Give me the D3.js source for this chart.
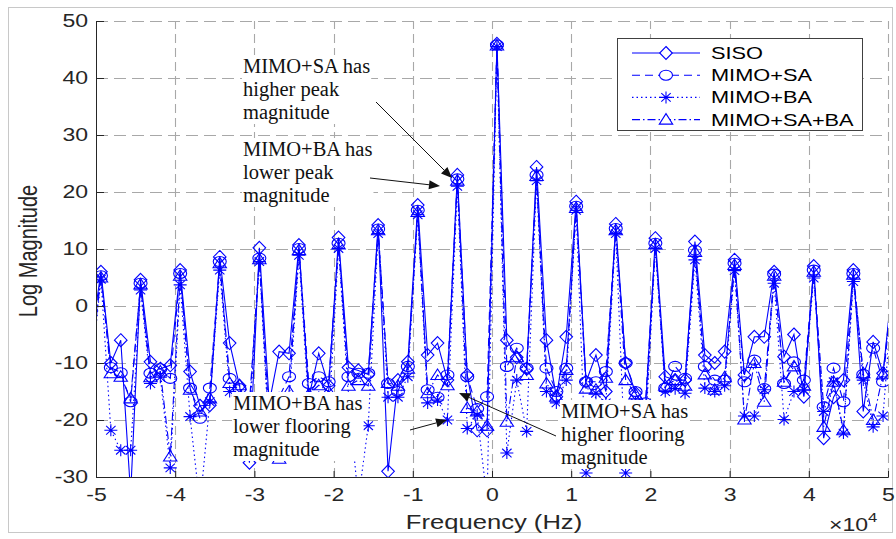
<!DOCTYPE html>
<html>
<head>
<meta charset="utf-8">
<script src="https://cdn.jsdelivr.net/npm/d3@7"></script>
<style>
  html, body { margin: 0; padding: 0; background: #ffffff; }
  svg { display: block; }
</style>
</head>
<body>
<svg id="chart" width="896" height="539"></svg>
<script>
// Frequency bins (units of 10^4 Hz), 1250 Hz spacing
const freqBins = [
  -5.0625, -4.9375, -4.8125, -4.6875, -4.5625, -4.4375, -4.3125, -4.1875, -4.0625,
  -3.9375, -3.8125, -3.6875, -3.5625, -3.4375, -3.3125, -3.1875, -3.0625,
  -2.9375, -2.8125, -2.6875, -2.5625, -2.4375, -2.3125, -2.1875, -2.0625,
  -1.9375, -1.8125, -1.6875, -1.5625, -1.4375, -1.3125, -1.1875, -1.0625,
  -0.9375, -0.8125, -0.6875, -0.5625, -0.4375, -0.3125, -0.1875, -0.0625,
  0.0625, 0.1875, 0.3125, 0.4375, 0.5625, 0.6875, 0.8125, 0.9375,
  1.0625, 1.1875, 1.3125, 1.4375, 1.5625, 1.6875, 1.8125, 1.9375,
  2.0625, 2.1875, 2.3125, 2.4375, 2.5625, 2.6875, 2.8125, 2.9375,
  3.0625, 3.1875, 3.3125, 3.4375, 3.5625, 3.6875, 3.8125, 3.9375,
  4.0625, 4.1875, 4.3125, 4.4375, 4.5625, 4.6875, 4.8125, 4.9375, 5.0625
];

// Log magnitude of each scheme at every bin
const sisoMag = [
  -6, 6.0, -10, -6, -33, 4.6, -9.8, -11, -10.4,
  6.3, -11.5, -17.5, -17.4, 8.6, -6.5, -14, -27.5,
  10.2, -17, -8.0, -8.3, 10.7, -16, -8.3, -14,
  12.0, -10.8, -11.3, -12, 14.2, -29, -13, -9.8,
  17.7, -8.6, -6.5, -13, 23.0, -12.1, -21.8, -21.8,
  46.0, -6, -9, -11, 24.4, -6, -15.9, -5.4,
  18.3, -13.3, -8.6, -15, 14.4, -10, -15.3, -18,
  11.9, -12.4, -13, -13, 11.3, -8.6, -10, -8,
  8.1, -12.1, -5.4, -5.4, 6.0, -8.9, -5, -15.9,
  7.0, -23.2, -16, -13, 6.3, -18.5, -6.3, -11.8, 5.0
];
const mimoSaMag = [
  -8, 5.3, -10.8, -11.7, -16.8, 4.0, -11.8, -11, -12.7,
  5.7, -14.4, -19.7, -14.4, 7.8, -12.7, -14.5, -17,
  8.4, -20, -16, -12.4, 10.1, -13.6, -12.4, -13.3,
  11.0, -12.4, -11.8, -11.8, 13.5, -13.6, -15, -10.6,
  16.8, -14.7, -16, -12.1, 22.3, -12.4, -18, -15.9,
  45.8, -10.6, -7.4, -10.9, 23.0, -10.9, -15, -10.9,
  17.5, -13.3, -13.3, -11.5, 13.6, -10, -15, -17,
  11.0, -14.4, -10.6, -12.7, 9.8, -10.6, -13, -13,
  7.5, -13.3, -9.5, -14.5, 5.6, -13.6, -9.8, -13,
  6.3, -17.7, -10.9, -16.8, 5.7, -12, -7.4, -13.3, 4.5
];
const mimoBaMag = [
  -12, 4.7, -21.8, -25.3, -25.3, 2.8, -13.6, -12.5, -28.4,
  3.7, -19.4, -35, -16.8, 6.3, -15, -18, -20,
  7.8, -24, -22, -17, 8.9, -18, -16, -20,
  10.1, -16, -34, -21, 12.7, -16, -16, -12.4,
  16.0, -17, -16.5, -20, 21.0, -21.5, -19.1, -34,
  45.5, -25.8, -13, -22, 22.0, -15, -17, -13,
  16.8, -29.3, -15.3, -17, 12.7, -29.3, -17, -22,
  10.1, -15, -14.5, -15.3, 8.1, -14.4, -15, -14,
  6.2, -19.3, -19.3, -14.7, 4.0, -19.9, -15, -14.7,
  4.9, -18.5, -13.3, -22.3, 4.3, -13, -21.2, -19.3, 3.5
];
const mimoSaBaMag = [
  -10, 5.0, -11.8, -12.4, -16.2, 3.8, -12.5, -11.5, -26.4,
  5.3, -14.7, -18.5, -16.2, 7.5, -13.5, -13.9, -18,
  8.2, -22, -26.8, -15, 9.8, -15.5, -13.9, -15,
  10.8, -14, -13, -14, 13.3, -13.5, -14, -11,
  16.5, -15.3, -12.1, -13.9, 22.0, -17.9, -18.5, -21,
  45.7, -20.3, -9, -12.1, 22.8, -13.6, -15.9, -11.2,
  17.2, -14.5, -14.7, -12.6, 13.3, -13, -15.5, -20,
  10.8, -14, -13, -14, 9.5, -12, -14.7, -12.5,
  7.2, -19.9, -10, -16.8, 5.3, -13.3, -10.6, -14,
  6.0, -21.2, -13.3, -21.8, 5.5, -11.8, -20, -12, 4.5
];

const seriesNames = ["SISO", "MIMO+SA", "MIMO+BA", "MIMO+SA+BA"];
const seriesData = [sisoMag, mimoSaMag, mimoBaMag, mimoSaBaMag];
const seriesDash = [null, "8,5", "1.5,3", "8,3,1.5,3"];
const seriesMarker = ["diamond", "circle", "asterisk", "triangle"];

const xTicks = [-5, -4, -3, -2, -1, 0, 1, 2, 3, 4, 5];
const yTicks = [-30, -20, -10, 0, 10, 20, 30, 40, 50];

const notes = [
  { lines: ["MIMO+SA has", "higher peak", "magnitude"], x: 243, y: 73, from: [376, 102], to: [452, 178] },
  { lines: ["MIMO+BA has", "lower peak", "magnitude"], x: 243, y: 156, from: [370, 178], to: [440, 186] },
  { lines: ["MIMO+BA has", "lower flooring", "magnitude"], x: 233, y: 410, from: [410, 430], to: [447, 420] },
  { lines: ["MIMO+SA has", "higher flooring", "magnitude"], x: 561, y: 418, from: [556, 436], to: [459, 393] }
];

const W = 896, H = 539;
const margin = { left: 96, right: 8, top: 21, bottom: 62 };
const SX = 1.28;               // horizontal stretch of the chart lettering
const svg = d3.select("#chart");
const blue = "#0000ff";
const sans = "Liberation Sans, Arial, sans-serif";
const axisColor = "#262626";

svg.append("rect").attr("x", 0).attr("y", 0).attr("width", W).attr("height", H).attr("fill", "#fff");
svg.append("rect").attr("x", 8.5).attr("y", 7.5).attr("width", 884).attr("height", 525)
  .attr("fill", "none").attr("stroke", "#c8c8c8").attr("stroke-width", 1);

const x = d3.scaleLinear().domain([-5, 5]).range([margin.left, W - margin.right]);
const y = d3.scaleLinear().domain([-30, 50]).range([H - margin.bottom, margin.top]);

// grid
const grid = svg.append("g").attr("stroke", "#a8a8a8").attr("stroke-width", 1.1);
grid.selectAll(".gx").data(xTicks.slice(1)).join("line")
  .attr("x1", d => Math.round(x(d)) + 0.5).attr("x2", d => Math.round(x(d)) + 0.5)
  .attr("y1", y(-30)).attr("y2", y(50)).attr("stroke-dasharray", "9,5");
grid.selectAll(".gy").data(yTicks.slice(1)).join("line")
  .attr("y1", d => Math.round(y(d)) + 0.5).attr("y2", d => Math.round(y(d)) + 0.5)
  .attr("x1", x(-5)).attr("x2", x(5)).attr("stroke-dasharray", "12,6");

// clip for data
svg.append("defs").append("clipPath").attr("id", "plotClip")
  .append("rect").attr("x", x(-5)).attr("y", y(50)).attr("width", x(5) - x(-5)).attr("height", y(-30) - y(50));

function markerPath(kind) {
  const p = d3.path();
  if (kind === "diamond") {
    p.moveTo(0, -6.5); p.lineTo(6.3, 0); p.lineTo(0, 6.5); p.lineTo(-6.3, 0); p.closePath();
  } else if (kind === "circle") {
    return "M6.5,0A6.5,5,0,1,1,-6.5,0A6.5,5,0,1,1,6.5,0Z";
  } else if (kind === "triangle") {
    p.moveTo(0, -6); p.lineTo(6.7, 4.5); p.lineTo(-6.7, 4.5); p.closePath();
  } else {
    const a = 6.5, b = 6, c = 4.7, d = 4.3;
    p.moveTo(-a, 0); p.lineTo(a, 0);
    p.moveTo(0, -b); p.lineTo(0, b);
    p.moveTo(-c, -d); p.lineTo(c, d);
    p.moveTo(-c, d); p.lineTo(c, -d);
  }
  return p.toString();
}

const plot = svg.append("g").attr("clip-path", "url(#plotClip)");
const line = d3.line().x((d, i) => x(freqBins[i])).y(d => y(d));
const inView = (v, i) => freqBins[i] >= -5 && freqBins[i] <= 5 && v >= -30 - 1 && v <= 50;

seriesData.forEach((vals, k) => {
  const g = plot.append("g");
  g.append("path").datum(vals).attr("d", line)
    .attr("fill", "none").attr("stroke", blue).attr("stroke-width", 1.1)
    .attr("stroke-dasharray", seriesDash[k]);
  const pts = vals.map((v, i) => ({ v, i })).filter(p => inView(p.v, p.i));
  g.selectAll("path.m").data(pts).join("path").attr("class", "m")
    .attr("transform", p => `translate(${x(freqBins[p.i])},${y(p.v)})`)
    .attr("d", markerPath(seriesMarker[k]))
    .attr("fill", "none").attr("stroke", blue).attr("stroke-width", 1.1);
});

// axes
const xAxis = d3.axisBottom(x).tickValues(xTicks).tickSize(-6).tickPadding(11);
const yAxis = d3.axisLeft(y).tickValues(yTicks).tickSize(-8).tickPadding(8);
const gx = svg.append("g").attr("transform", `translate(0,${y(-30)})`).call(xAxis);
const gy = svg.append("g").attr("transform", `translate(${x(-5)},0)`).call(yAxis);
[gx, gy].forEach(g => {
  g.select(".domain").attr("stroke", axisColor);
  g.selectAll(".tick line").attr("stroke", axisColor);
  g.selectAll(".tick text").attr("fill", axisColor)
    .attr("font-family", sans).attr("font-size", 18)
    .text(d => d < 0 ? "-" + Math.abs(d) : d);
});
gx.selectAll(".tick text").attr("transform", `scale(${SX},1)`);
gy.selectAll(".tick text").attr("x", -8 / SX).attr("transform", `scale(${SX},1)`);

svg.append("text").attr("transform", `translate(494,529) scale(${SX},1)`).attr("text-anchor", "middle")
  .attr("font-family", sans).attr("font-size", 20).attr("fill", axisColor)
  .text("Frequency (Hz)");
svg.append("text").attr("transform", `translate(37,251) scale(${SX},1) rotate(-90)`).attr("text-anchor", "middle")
  .attr("font-family", sans).attr("font-size", 20).attr("fill", axisColor)
  .text("Log Magnitude");
const ex = svg.append("text").attr("transform", `translate(829,531) scale(${SX},1)`)
  .attr("font-family", sans).attr("font-size", 18).attr("fill", axisColor);
ex.append("tspan").text("\u00d710");
ex.append("tspan").attr("dy", -9).attr("font-size", 13).text("4");

// annotations
notes.forEach(n => {
  const t = svg.append("text").attr("font-family", "Liberation Serif, Times New Roman, serif")
    .attr("font-size", 20.5).attr("fill", "#111");
  n.lines.forEach((s, i) => t.append("tspan").attr("x", n.x).attr("y", n.y + i * 23).text(s));
  const bb = t.node().getBBox();
  svg.insert("rect", () => t.node()).attr("x", bb.x - 1).attr("y", bb.y).attr("width", bb.width + 2).attr("height", bb.height)
    .attr("fill", "#fff");
  const [x1, y1] = n.from, [x2, y2] = n.to;
  const ang = Math.atan2(y2 - y1, x2 - x1);
  const hl = 11, hw = 4.5;
  const bx = x2 - hl * Math.cos(ang), by = y2 - hl * Math.sin(ang);
  svg.append("line").attr("x1", x1).attr("y1", y1).attr("x2", bx).attr("y2", by)
    .attr("stroke", "#111").attr("stroke-width", 1);
  svg.append("path")
    .attr("d", `M${x2},${y2}L${bx + hw * Math.sin(ang)},${by - hw * Math.cos(ang)}L${bx - hw * Math.sin(ang)},${by + hw * Math.cos(ang)}Z`)
    .attr("fill", "#111");
});

// legend
const lg = svg.append("g");
lg.append("rect").attr("x", 617.5).attr("y", 38.5).attr("width", 245).attr("height", 92)
  .attr("fill", "#fff").attr("stroke", "#404040").attr("stroke-width", 1);
seriesNames.forEach((name, k) => {
  const ry = 53 + k * 22.2;
  lg.append("line").attr("x1", 632).attr("x2", 700).attr("y1", ry).attr("y2", ry)
    .attr("stroke", blue).attr("stroke-width", 1.1).attr("stroke-dasharray", seriesDash[k]);
  lg.append("path").attr("transform", `translate(666,${ry})`).attr("d", markerPath(seriesMarker[k]))
    .attr("fill", "#fff").attr("stroke", blue).attr("stroke-width", 1.1);
  lg.append("text").attr("transform", `translate(711,${ry + 6}) scale(${SX},1)`)
    .attr("font-family", sans).attr("font-size", 17).attr("fill", "#000")
    .text(name);
});
</script>
</body>
</html>
